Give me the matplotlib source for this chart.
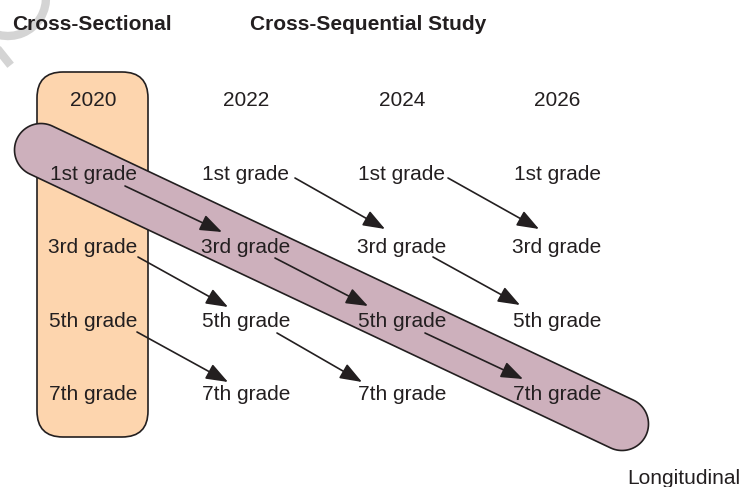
import numpy as np
import matplotlib
matplotlib.use("Agg")
import matplotlib.pyplot as plt
from matplotlib.patches import FancyBboxPatch, Polygon, Arc

plt.rcParams['font.family'] = ['Liberation Sans', 'DejaVu Sans']

# diagram content
titles = ['Cross-Sectional', 'Cross-Sequential Study']
years = ['2020', '2022', '2024', '2026']
grades = ['1st grade', '3rd grade', '5th grade', '7th grade']
side_label = 'Longitudinal'

# arrows: (from column, from row) -> (column + 1, row + 1)
arrow_src = [(0, 0), (1, 0), (2, 0),
             (0, 1), (1, 1), (2, 1),
             (0, 2), (1, 2), (2, 2)]

# layout (pixel units, y down)
col_x = [93, 246, 402, 557]
row_base = [180, 253, 327, 400]
year_base = 106
tail_off = [(32, 6), (49, -2), (46, -2),
            (45, 4), (29, 5), (31, 4),
            (44, 5), (31, 6), (23, 6)]
tip_off = [(-24, -21), (-17, -24), (-18, -24),
           (-18, -20), (-34, -21), (-37, -22),
           (-18, -18), (-40, -18), (-34, -21)]

ink = '#231f20'
orange = '#fdd5ae'
purple = '#cdb0bc'
fs = 15

fig = plt.figure(figsize=(7.43, 4.87), dpi=100)
ax = fig.add_axes([0, 0, 1, 1])
ax.set_xlim(0, 743)
ax.set_ylim(487, 0)
ax.axis('off')

# faint watermark fragment in the corner
ax.add_patch(Arc((8, -2), 76, 76, theta1=-5, theta2=140, color='#d4d4d4', lw=6, zorder=0))
ax.plot([0, 8], [52, 62], color='#d4d4d4', lw=6, zorder=0)

# cross-sectional column (2020)
box = FancyBboxPatch((37, 72), 111, 365, boxstyle='round,pad=0,rounding_size=26',
                     facecolor=orange, edgecolor=ink, lw=1.2, zorder=1)
ax.add_patch(box)

# longitudinal band (stadium shape)
c1 = np.array([41.0, 150.0])
c2 = np.array([622.0, 424.0])
r = 26.5
d = (c2 - c1) / np.linalg.norm(c2 - c1)
ang = np.arctan2(d[1], d[0])
t1 = np.linspace(ang + np.pi / 2, ang + 3 * np.pi / 2, 40)
t2 = np.linspace(ang - np.pi / 2, ang + np.pi / 2, 40)
pts = np.vstack([np.column_stack([c1[0] + r * np.cos(t1), c1[1] + r * np.sin(t1)]),
                 np.column_stack([c2[0] + r * np.cos(t2), c2[1] + r * np.sin(t2)])])
ax.add_patch(Polygon(pts, closed=True, facecolor=purple, edgecolor=ink, lw=1.2, zorder=2))

# titles
ax.text(12, 29.5, titles[0], fontsize=fs, fontweight='bold', color=ink, va='baseline', ha='left')
ax.text(250, 29.5, titles[1], fontsize=fs, fontweight='bold', color=ink, va='baseline', ha='left')

# years and grades
for i, yr in enumerate(years):
    ax.text(col_x[i], year_base, yr, fontsize=fs, color=ink, ha='center', va='baseline', zorder=5)
    for j, g in enumerate(grades):
        ax.text(col_x[i], row_base[j], g, fontsize=fs, color=ink, ha='center', va='baseline', zorder=5)

# arrows
for k, (c, rw) in enumerate(arrow_src):
    tail = (col_x[c] + tail_off[k][0], row_base[rw] + tail_off[k][1])
    tip = (col_x[c + 1] + tip_off[k][0], row_base[rw + 1] + tip_off[k][1])
    ax.annotate('', xy=tip, xytext=tail,
                arrowprops=dict(arrowstyle='-|>,head_length=0.75,head_width=0.28',
                                mutation_scale=18, color=ink, lw=1.2,
                                shrinkA=0, shrinkB=0),
                zorder=6)

ax.text(740, 484, side_label, fontsize=fs, color=ink, ha='right', va='baseline')

fig.savefig('out.png', dpi=100)
